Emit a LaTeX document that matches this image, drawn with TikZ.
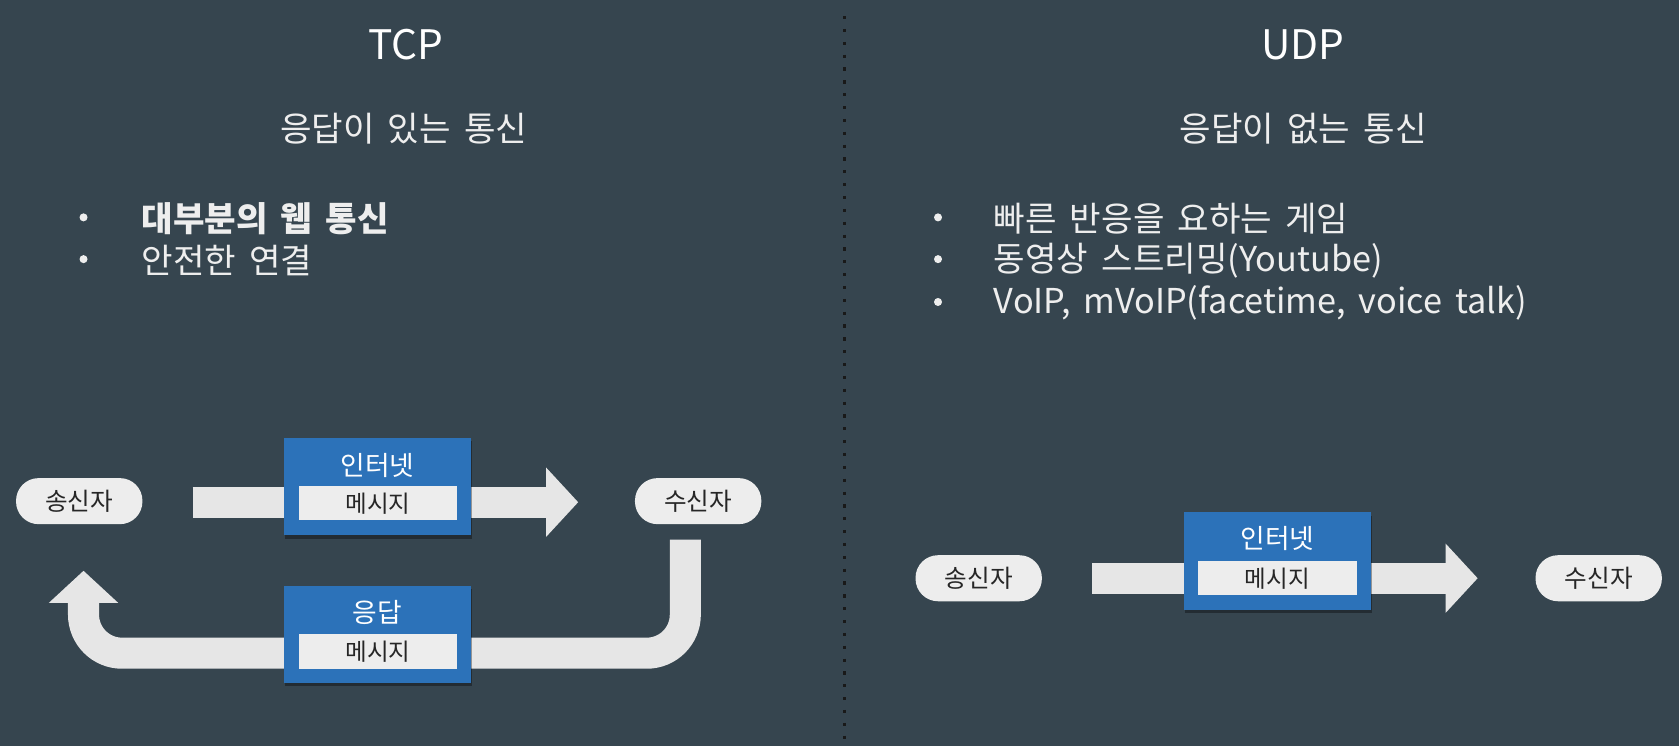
\documentclass[tikz,border=0pt]{standalone}
\usepackage{fontspec}
\setmainfont{Noto Sans CJK KR}[WordSpace=1.7]
\usetikzlibrary{arrows.meta,shadows}
\definecolor{bg}{HTML}{36454F}
\definecolor{boxblue}{HTML}{2C72B9}
\definecolor{lightfill}{HTML}{EDEDED}
\definecolor{arrowfill}{HTML}{E6E6E6}
\definecolor{darktext}{HTML}{262626}
\definecolor{lighttext}{HTML}{EEEEEE}
\begin{document}
\begin{tikzpicture}[x=1pt,y=-1pt,
  title/.style={text=white,font=\fontsize{38}{40}\selectfont,inner sep=0pt},
  subtitle/.style={text=lighttext,font=\fontsize{32}{34}\selectfont,inner sep=0pt},
  bulletdot/.style={circle,fill=lighttext,minimum size=7.5pt,inner sep=0pt},
  item/.style={text=lighttext,font=\fontsize{32}{34}\selectfont,inner sep=0pt,anchor=west},
  pill/.style={fill=lightfill,rounded corners=21pt,minimum width=118pt,minimum height=43pt,inner sep=0pt,text=darktext,font=\fontsize{23}{24}\selectfont},
  bluebox/.style={fill=boxblue,minimum width=175pt,minimum height=91pt,inner sep=0pt,general shadow={fill=black,opacity=0.35,shadow xshift=1pt,shadow yshift=-3pt}},
  boxlabel/.style={text=white,font=\fontsize{25}{26}\selectfont,inner sep=0pt},
  msg/.style={fill=lightfill,minimum width=148pt,minimum height=32pt,inner sep=0pt,text=darktext,font=\fontsize{22}{24}\selectfont},
  blockarrow/.style={draw=arrowfill,line width=29pt,-{Triangle[length=30pt,width=63pt]}},
  divider/.style={draw=black!90,line width=3pt,dash pattern=on 3pt off 9pt}
]
\fill[bg] (0,0) rectangle (1568,697);
\useasboundingbox (0,0) rectangle (1568,697);
% divider
\coordinate (dtop) at (789,15);
\coordinate (dbot) at (789,690);
\draw[divider] (dtop) -- (dbot);

% ---------- TCP ----------
\node[title] (tcp) at (379,42) {TCP};
\node[subtitle] (tcpsub) at (377,120) {응답이 있는 통신};
\node[bulletdot] (tb1) at (78,203) {};
\node[item,font=\fontsize{32}{34}\selectfont\bfseries] (ti1) at (132,204) {대부분의 웹 통신};
\node[bulletdot] (tb2) at (78,242) {};
\node[item] (ti2) at (132,243) {안전한 연결};

\node[pill] (snd1) at (74,468) {송신자};
\node[pill] (rcv1) at (652,468) {수신자};

\coordinate (a1s) at (180,469);
\coordinate (a1e) at (540,469);
\draw[blockarrow] (a1s) -- (a1e);

\coordinate (r1) at (640,504);
\coordinate (r2) at (640,610);
\coordinate (r3) at (78,610);
\coordinate (r4) at (78,533);
\draw[blockarrow,rounded corners=36pt] (r1) -- (r2) -- (r3) -- (r4);

\node[bluebox] (net1) at (352.5,454.5) {};
\node[boxlabel] (net1l) at (352.5,435) {인터넷};
\node[msg] (msg1) at (353,470) {메시지};

\node[bluebox] (resp) at (352.5,592.5) {};
\node[boxlabel] (respl) at (352.5,572) {응답};
\node[msg] (msg2) at (353,608.5) {메시지};

% ---------- UDP ----------
\node[title] (udp) at (1217,42) {UDP};
\node[subtitle] (udpsub) at (1217,120) {응답이 없는 통신};
\node[bulletdot] (ub1) at (876,203) {};
\node[item] (ui1) at (928,204) {빠른 반응을 요하는 게임};
\node[bulletdot] (ub2) at (876,242) {};
\node[item] (ui2) at (928,243) {동영상 스트리밍(Youtube)};
\node[bulletdot] (ub3) at (876,282) {};
\node[item] (ui3) at (928,283) {VoIP, mVoIP(facetime, voice talk)};

\node[pill] (snd2) at (914,540) {송신자};
\node[pill] (rcv2) at (1493,540) {수신자};

\coordinate (a2s) at (1020,540);
\coordinate (a2e) at (1380,540);
\draw[blockarrow] (a2s) -- (a2e);

\node[bluebox] (net2) at (1193,524) {};
\node[boxlabel] (net2l) at (1193,503) {인터넷};
\node[msg] (msg3) at (1193,540) {메시지};
\end{tikzpicture}
\end{document}
